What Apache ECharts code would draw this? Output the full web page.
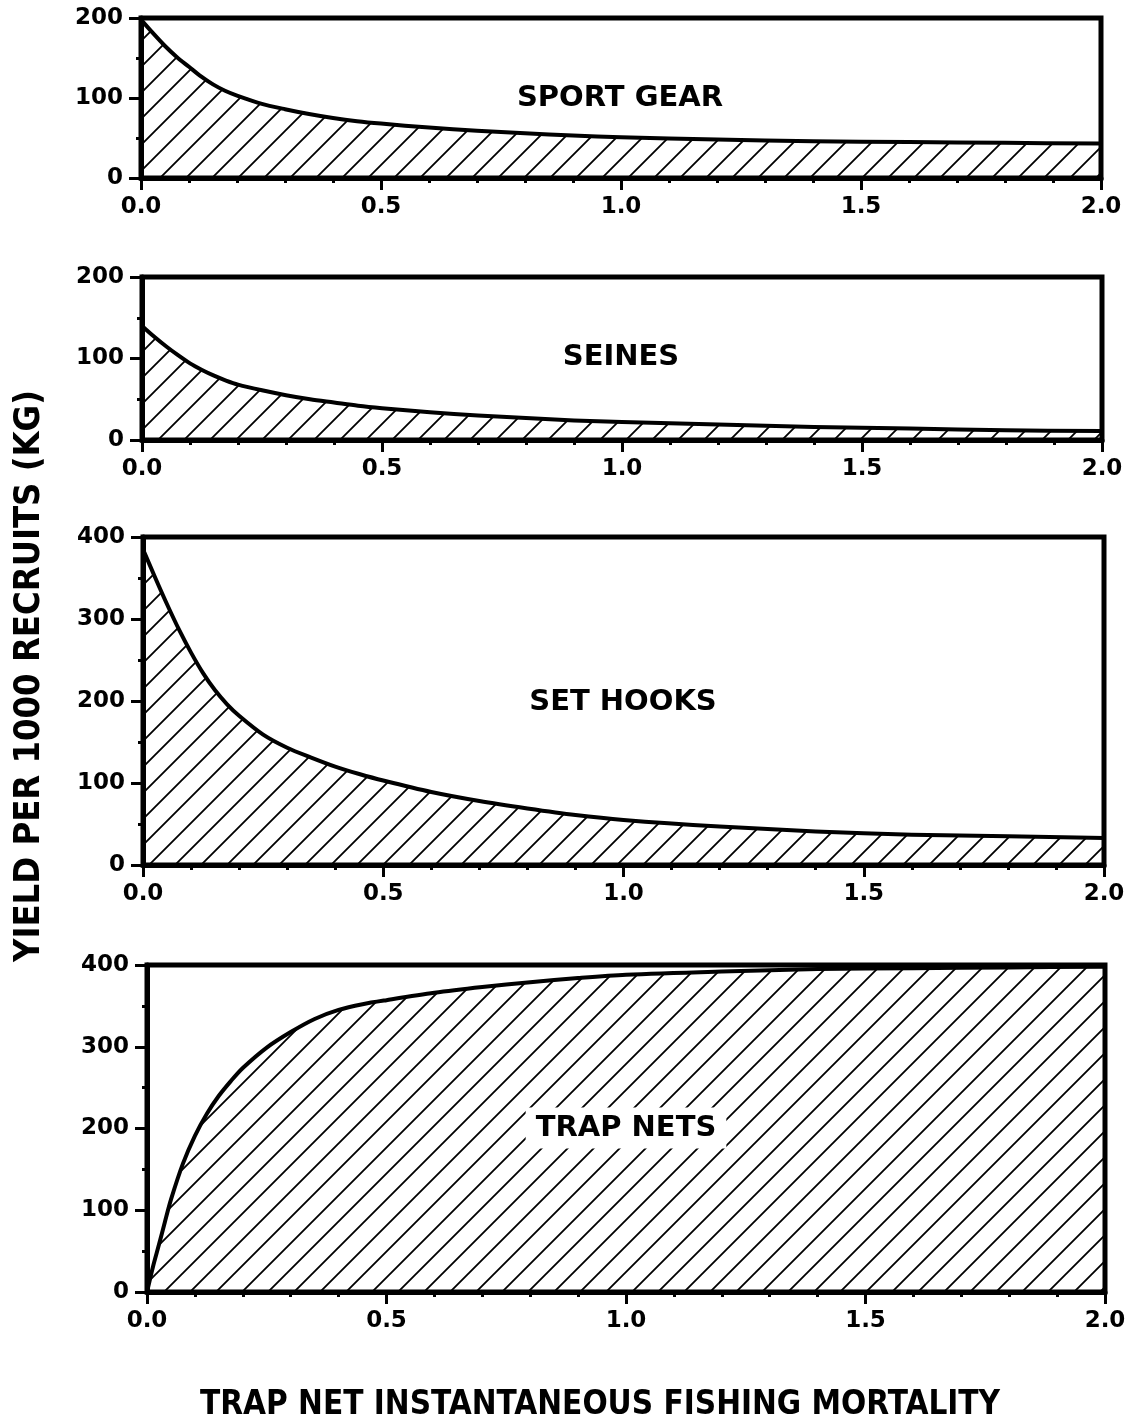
<!DOCTYPE html>
<html>
<head>
<meta charset="utf-8">
<script src="https://cdn.jsdelivr.net/npm/echarts@6/dist/echarts.min.js"></script>
<style>html,body{margin:0;padding:0;background:#fff}#c{width:1138px;height:1423px}</style>
</head>
<body>
<div id="c"></div>
<script>
// ---- data ----
const sportX = [0, 0.025, 0.05, 0.075, 0.1, 0.125, 0.15, 0.175, 0.2, 0.25, 0.3, 0.35, 0.4, 0.45, 0.5, 0.6, 0.7, 0.8, 0.9, 1.0, 1.2, 1.4, 1.6, 1.8, 2.0];
const sportY = [198, 181, 165, 151, 139, 127, 117, 109, 103, 93, 86, 80, 75, 71, 68, 63, 59, 56, 53, 51, 48, 46, 45, 44, 43];
const seinesX = [0, 0.025, 0.05, 0.075, 0.1, 0.125, 0.15, 0.175, 0.2, 0.25, 0.3, 0.35, 0.4, 0.45, 0.5, 0.6, 0.7, 0.8, 0.9, 1.0, 1.2, 1.4, 1.6, 1.8, 2.0];
const seinesY = [140, 127, 115, 104, 94, 86, 79, 73, 68, 61, 55, 50, 46, 42, 39, 34, 30, 27, 24, 22, 19, 16, 14, 12, 11];
const hooksX = [0, 0.025, 0.05, 0.075, 0.1, 0.125, 0.15, 0.175, 0.2, 0.25, 0.3, 0.35, 0.4, 0.45, 0.5, 0.6, 0.7, 0.8, 0.9, 1.0, 1.2, 1.4, 1.6, 1.8, 2.0];
const hooksY = [385, 351, 318, 287, 259, 234, 213, 196, 182, 159, 143, 131, 120, 111, 103, 89, 78, 69, 61, 55, 47, 41, 37, 35, 33];
const trapX = [0, 0.0125, 0.025, 0.0375, 0.05, 0.075, 0.1, 0.125, 0.15, 0.175, 0.2, 0.25, 0.3, 0.35, 0.4, 0.45, 0.5, 0.6, 0.7, 0.8, 0.9, 1.0, 1.2, 1.4, 1.6, 1.8, 2.0];
const trapY = [0, 31, 58, 86, 113, 157, 191, 218, 240, 258, 274, 299, 318, 334, 345, 352, 357, 366, 373, 379, 384, 388, 392, 395, 396, 397, 398];
const panelNames = ['SPORT GEAR', 'SEINES', 'SET HOOKS', 'TRAP NETS'];
const yMaxes = [200, 200, 400, 400];
const xTitle = 'TRAP NET INSTANTANEOUS FISHING MORTALITY';
const yTitle = 'YIELD PER 1000 RECRUITS (KG)';

// ---- layout ----
const grids = [
  {left: 141, top: 18, width: 960, height: 160},
  {left: 142, top: 277, width: 960, height: 163},
  {left: 143, top: 537, width: 961, height: 328},
  {left: 147, top: 965, width: 958, height: 327}
];
const titlePos = [[620, 98], [621, 357], [623, 702], [626, 1128]];

function hatch() {
  const s = 26;
  const c = document.createElement('canvas');
  c.width = s; c.height = s;
  const g = c.getContext('2d');
  g.strokeStyle = '#000';
  g.lineWidth = 1.8;
  g.beginPath();
  g.moveTo(-2, s + 2); g.lineTo(s + 2, -2);
  g.moveTo(-3, 3); g.lineTo(3, -3);
  g.moveTo(s - 3, s + 3); g.lineTo(s + 3, s - 3);
  g.stroke();
  return c;
}
const pat = hatch();

const seriesData = [[sportX, sportY], [seinesX, seinesY], [hooksX, hooksY], [trapX, trapY]];

const option = {
  animation: false,
  backgroundColor: '#fff',
  grid: grids.map(g => Object.assign({show: true, borderColor: '#000', borderWidth: 5, backgroundColor: 'transparent'}, g)),
  xAxis: grids.map((g, i) => ({
    type: 'value', gridIndex: i, min: 0, max: 2, interval: 0.5,
    axisLine: {show: true, lineStyle: {color: '#000', width: 5}},
    axisTick: {show: true, length: 12, lineStyle: {color: '#000', width: 3}},
    minorTick: {show: true, splitNumber: 5, length: 5, lineStyle: {color: '#000', width: 3}},
    splitLine: {show: false},
    axisLabel: {margin: 18, color: '#000', fontFamily: 'DejaVu Sans', fontWeight: 'bold', fontSize: 23,
      formatter: v => v.toFixed(1)}
  })),
  yAxis: grids.map((g, i) => ({
    type: 'value', gridIndex: i, min: 0, max: yMaxes[i], interval: 100,
    axisLine: {show: true, lineStyle: {color: '#000', width: 5}},
    axisTick: {show: true, length: 12, lineStyle: {color: '#000', width: 3}},
    minorTick: {show: true, splitNumber: 2, length: 5, lineStyle: {color: '#000', width: 3}},
    splitLine: {show: false},
    axisLabel: {margin: 18, color: '#000', fontFamily: 'DejaVu Sans', fontWeight: 'bold', fontSize: 23}
  })),
  series: seriesData.map((d, i) => ({
    type: 'line', xAxisIndex: i, yAxisIndex: i,
    data: d[0].map((x, k) => [x, d[1][k]]),
    smooth: 0.3, symbol: 'none',
    lineStyle: {color: '#000', width: 4, join: 'round'},
    areaStyle: {color: {image: pat, repeat: 'repeat'}, opacity: 1},
    z: 2
  })),
  graphic: [
    ...panelNames.map((n, i) => ({
      type: 'text', x: titlePos[i][0], y: titlePos[i][1], z: 100,
      style: {text: n, font: 'bold 29px "DejaVu Sans"', fill: '#000', align: 'center', verticalAlign: 'middle',
        backgroundColor: i === 3 ? '#fff' : null, padding: i === 3 ? [6, 10] : 0}
    })),
    {type: 'text', x: 30, y: 676, rotation: Math.PI / 2, z: 100,
      style: {text: yTitle, font: 'bold 36px "DejaVu Sans Condensed"', fill: '#000', align: 'center', verticalAlign: 'middle'}},
    {type: 'text', x: 600, y: 1405, z: 100,
      style: {text: xTitle, font: 'bold 33px "DejaVu Sans Condensed"', fill: '#000', align: 'center', verticalAlign: 'middle'}}
  ]
};
const chart = echarts.init(document.getElementById('c'), null, {renderer: 'canvas'});
chart.setOption(option);
</script>
</body>
</html>
